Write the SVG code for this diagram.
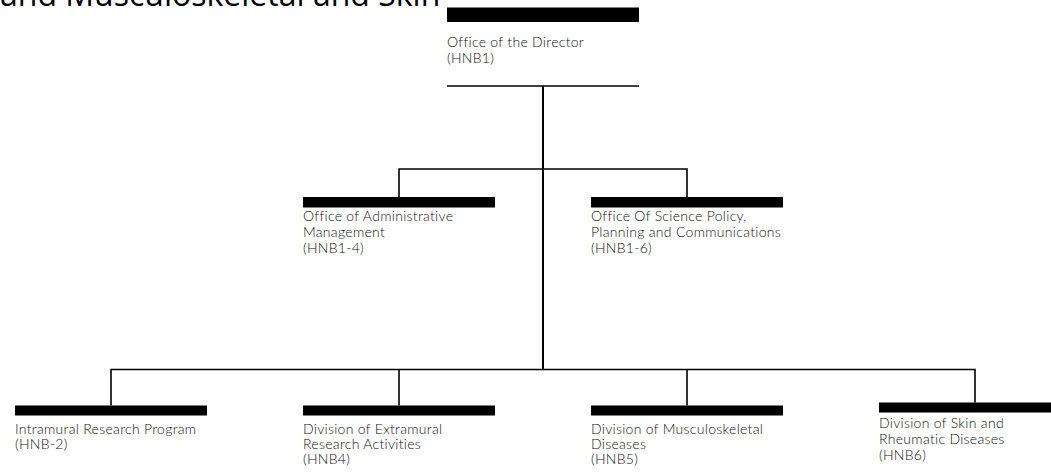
<svg xmlns="http://www.w3.org/2000/svg" width="1051" height="474" viewBox="0 0 1051 474">
<style>
.bar{fill:#000}
.lbl{font-family:Lato,"Liberation Sans",sans-serif;font-weight:300;font-size:14px;letter-spacing:0.3px;fill:#111}
.ttl{font-family:"Open Sans","Noto Sans",sans-serif;font-size:32px;fill:#000}
.ln{stroke:#000;stroke-width:1.6;fill:none}
.vl{stroke:#000;stroke-width:2;fill:none}
</style>
<rect width="1051" height="474" fill="#fff"/>
<text class="ttl" x="0" y="6">and Musculoskeletal and Skin</text>
<g id="connectors">
<line class="ln" x1="447" y1="86" x2="639" y2="86"/>
<line class="vl" x1="543" y1="86" x2="543" y2="370"/>
<polyline class="ln" points="399,197 399,169 687,169 687,197"/>
<polyline class="ln" points="111,405.5 111,369.5 975,369.5 975,402.5"/>
<line class="ln" x1="399" y1="369.5" x2="399" y2="405.5"/>
<line class="ln" x1="687" y1="369.5" x2="687" y2="405.5"/>
</g>
<g id="director">
<rect class="bar" x="447" y="7.5" width="192" height="14.5"/>
<text class="lbl" x="447" y="47">Office of the Director</text>
<text class="lbl" x="447" y="63">(HNB1)</text>
</g>
<g id="admin">
<rect class="bar" x="303" y="197" width="192" height="10.5"/>
<text class="lbl" x="303" y="221">Office of Administrative</text>
<text class="lbl" x="303" y="237">Management</text>
<text class="lbl" x="303" y="253">(HNB1-4)</text>
</g>
<g id="science">
<rect class="bar" x="591" y="197" width="192" height="10.5"/>
<text class="lbl" x="591" y="221">Office Of Science Policy,</text>
<text class="lbl" x="591" y="237">Planning and Communications</text>
<text class="lbl" x="591" y="253">(HNB1-6)</text>
</g>
<g id="intramural">
<rect class="bar" x="15" y="405.5" width="192" height="10"/>
<text class="lbl" x="15" y="434">Intramural Research Program</text>
<text class="lbl" x="15" y="449">(HNB-2)</text>
</g>
<g id="extramural">
<rect class="bar" x="303" y="405.5" width="192" height="10"/>
<text class="lbl" x="303" y="434">Division of Extramural</text>
<text class="lbl" x="303" y="449">Research Activities</text>
<text class="lbl" x="303" y="464">(HNB4)</text>
</g>
<g id="musculoskeletal">
<rect class="bar" x="591" y="405.5" width="192" height="10"/>
<text class="lbl" x="591" y="434">Division of Musculoskeletal</text>
<text class="lbl" x="591" y="449">Diseases</text>
<text class="lbl" x="591" y="464">(HNB5)</text>
</g>
<g id="skin">
<rect class="bar" x="879" y="402.5" width="192" height="10"/>
<text class="lbl" x="879" y="428">Division of Skin and</text>
<text class="lbl" x="879" y="444">Rheumatic Diseases</text>
<text class="lbl" x="879" y="460">(HNB6)</text>
</g>
</svg>
